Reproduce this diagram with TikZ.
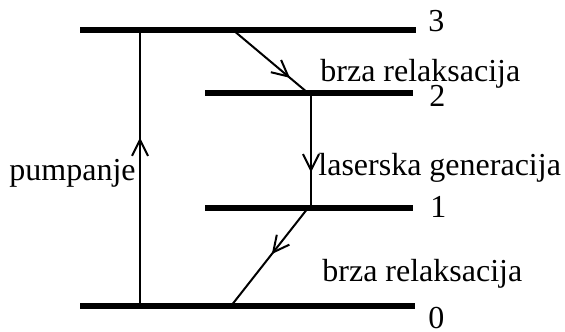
\documentclass[tikz,border=0pt]{standalone}
\usepackage{fontspec}
\setmainfont{Liberation Serif}
\usetikzlibrary{arrows.meta,decorations.markings}

\begin{document}
\begin{tikzpicture}[
    x=0.5pt, y=-0.5pt,
    level/.style={line width=2.6pt},
    trans/.style={line width=1pt},
    midarrow/.style={postaction={decorate}, decoration={markings,
        mark=at position #1 with {\arrow{Straight Barb[length=8pt,width=8pt,line width=1pt]}}}},
    lbl/.style={font=\fontsize{16}{19}\selectfont, inner sep=0pt}
]
    \useasboundingbox (0,0) rectangle (565,331);

    % --- Energy levels ---
    \coordinate (L3a) at (80,30);   \coordinate (L3b) at (416,30);
    \coordinate (L2a) at (205,93);  \coordinate (L2b) at (413,93);
    \coordinate (L1a) at (205,208); \coordinate (L1b) at (413,208);
    \coordinate (L0a) at (80,306);  \coordinate (L0b) at (415,306);

    \draw[level] (L3a) -- (L3b);
    \draw[level] (L2a) -- (L2b);
    \draw[level] (L1a) -- (L1b);
    \draw[level] (L0a) -- (L0b);

    % Level numbers
    \node[lbl, anchor=base west] (n3) at (428,32)  {3};
    \node[lbl, anchor=base west] (n2) at (429,107) {2};
    \node[lbl, anchor=base west] (n1) at (430,217) {1};
    \node[lbl, anchor=base west] (n0) at (428,328) {0};

    % --- Transitions ---
    \coordinate (pumpBot) at (140,306);
    \coordinate (pumpTop) at (140,30);
    \draw[trans, midarrow=0.61] (pumpBot) -- (pumpTop);

    \coordinate (fast3) at (233,30);
    \coordinate (fast2) at (308,93);
    \draw[trans, midarrow=0.76] (fast3) -- (fast2);

    \coordinate (las2) at (311,93);
    \coordinate (las1) at (311,208);
    \draw[trans, midarrow=0.69] (las2) -- (las1);

    \coordinate (fast1) at (308,208);
    \coordinate (fast0) at (231,306);
    \draw[trans, midarrow=0.47] (fast1) -- (fast0);

    % Labels
    \node[lbl, anchor=base east] (pump) at (136,180) {pumpanje};
    \node[lbl, anchor=base west] (relaxTop) at (320,82) {brza relaksacija};
    \node[lbl, anchor=base west] (laser) at (318,175) {laserska generacija};
    \node[lbl, anchor=base west] (relaxBot) at (322,281) {brza relaksacija};

\end{tikzpicture}
\end{document}
